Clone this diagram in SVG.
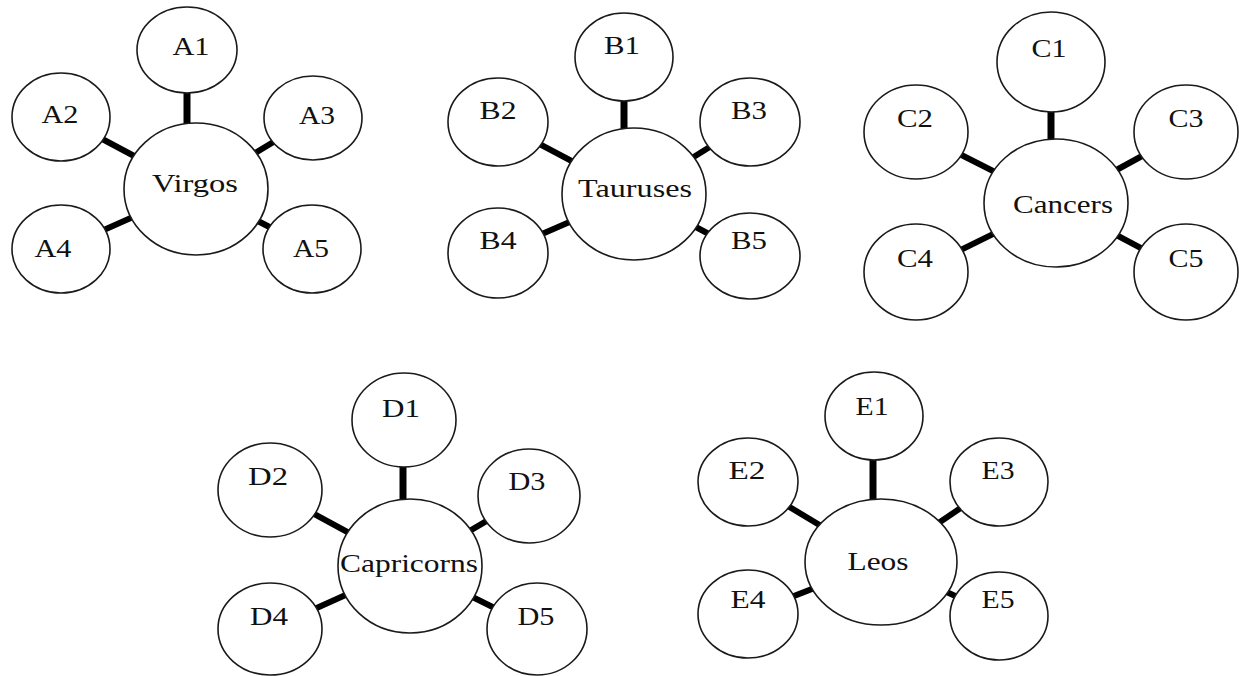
<svg xmlns="http://www.w3.org/2000/svg" width="1239" height="676" viewBox="0 0 1239 676">
<style>
.bg{fill:#fff}
.n ellipse{fill:#fff;stroke:#1a1a1a;stroke-width:1.6}
.n text{font-family:"Liberation Serif","Times New Roman",serif;font-size:26px;fill:#111;text-anchor:middle}
.c line{stroke:#000;stroke-width:6}
.c line.v{stroke-width:7}
</style>
<rect class="bg" x="0" y="0" width="1239" height="676"/>
<g id="connectors" class="c">
  <!-- Virgos -->
  <line class="v" x1="187" y1="80" x2="187" y2="140"/>
  <line x1="196" y1="189" x2="61" y2="117"/>
  <line x1="196" y1="189" x2="313" y2="118"/>
  <line x1="196" y1="189" x2="61" y2="249"/>
  <line x1="196" y1="189" x2="312" y2="249"/>
  <!-- Tauruses -->
  <line class="v" x1="624" y1="90" x2="624" y2="140"/>
  <line x1="634" y1="194" x2="498" y2="122"/>
  <line x1="634" y1="194" x2="750" y2="122"/>
  <line x1="634" y1="194" x2="498" y2="253"/>
  <line x1="634" y1="194" x2="750" y2="256"/>
  <!-- Cancers -->
  <line class="v" x1="1051" y1="100" x2="1051" y2="150"/>
  <line x1="1056" y1="203" x2="916" y2="132"/>
  <line x1="1056" y1="203" x2="1186" y2="132"/>
  <line x1="1056" y1="203" x2="916" y2="272"/>
  <line x1="1056" y1="203" x2="1186" y2="272"/>
  <!-- Capricorns -->
  <line class="v" x1="403" y1="455" x2="403" y2="510"/>
  <line x1="410" y1="566" x2="270" y2="490"/>
  <line x1="410" y1="566" x2="529" y2="496"/>
  <line x1="410" y1="566" x2="270" y2="629"/>
  <line x1="410" y1="566" x2="537" y2="629"/>
  <!-- Leos -->
  <line class="v" x1="873" y1="450" x2="873" y2="510"/>
  <line x1="881" y1="562" x2="748" y2="482"/>
  <line x1="881" y1="562" x2="999" y2="482"/>
  <line x1="881" y1="562" x2="748" y2="614"/>
  <line x1="881" y1="562" x2="999" y2="616"/>
</g>

<!-- Cluster A -->
<g id="virgos" class="n"><ellipse cx="196" cy="189" rx="72" ry="66"/><text x="195" y="192" textLength="86" lengthAdjust="spacingAndGlyphs">Virgos</text></g>
<g id="A1" class="n"><ellipse cx="187" cy="50" rx="50" ry="43"/><text x="191" y="55" textLength="37" lengthAdjust="spacingAndGlyphs">A1</text></g>
<g id="A2" class="n"><ellipse cx="61" cy="117" rx="49" ry="44"/><text x="60" y="123" textLength="37" lengthAdjust="spacingAndGlyphs">A2</text></g>
<g id="A3" class="n"><ellipse cx="313" cy="118" rx="49" ry="42"/><text x="317" y="124" textLength="36" lengthAdjust="spacingAndGlyphs">A3</text></g>
<g id="A4" class="n"><ellipse cx="61" cy="249" rx="49" ry="44"/><text x="53" y="257" textLength="37" lengthAdjust="spacingAndGlyphs">A4</text></g>
<g id="A5" class="n"><ellipse cx="312" cy="249" rx="49" ry="44"/><text x="311" y="257" textLength="36" lengthAdjust="spacingAndGlyphs">A5</text></g>

<!-- Cluster B -->
<g id="tauruses" class="n"><ellipse cx="634" cy="194" rx="72" ry="66"/><text x="635" y="197" textLength="114" lengthAdjust="spacingAndGlyphs">Tauruses</text></g>
<g id="B1" class="n"><ellipse cx="624" cy="57" rx="49" ry="44"/><text x="622" y="54" textLength="36" lengthAdjust="spacingAndGlyphs">B1</text></g>
<g id="B2" class="n"><ellipse cx="498" cy="122" rx="50" ry="44"/><text x="498" y="119" textLength="37" lengthAdjust="spacingAndGlyphs">B2</text></g>
<g id="B3" class="n"><ellipse cx="750" cy="122" rx="50" ry="44"/><text x="749" y="119" textLength="36" lengthAdjust="spacingAndGlyphs">B3</text></g>
<g id="B4" class="n"><ellipse cx="498" cy="253" rx="50" ry="45"/><text x="498" y="249" textLength="37" lengthAdjust="spacingAndGlyphs">B4</text></g>
<g id="B5" class="n"><ellipse cx="750" cy="256" rx="50" ry="43"/><text x="749" y="249" textLength="36" lengthAdjust="spacingAndGlyphs">B5</text></g>

<!-- Cluster C -->
<g id="cancers" class="n"><ellipse cx="1056" cy="203" rx="72" ry="64"/><text x="1063" y="213" textLength="100" lengthAdjust="spacingAndGlyphs">Cancers</text></g>
<g id="C1" class="n"><ellipse cx="1051" cy="62" rx="54" ry="50"/><text x="1049" y="57" textLength="35" lengthAdjust="spacingAndGlyphs">C1</text></g>
<g id="C2" class="n"><ellipse cx="916" cy="132" rx="52" ry="47"/><text x="915" y="127" textLength="36" lengthAdjust="spacingAndGlyphs">C2</text></g>
<g id="C3" class="n"><ellipse cx="1186" cy="132" rx="52" ry="47"/><text x="1186" y="127" textLength="35" lengthAdjust="spacingAndGlyphs">C3</text></g>
<g id="C4" class="n"><ellipse cx="916" cy="272" rx="52" ry="48"/><text x="915" y="267" textLength="36" lengthAdjust="spacingAndGlyphs">C4</text></g>
<g id="C5" class="n"><ellipse cx="1186" cy="272" rx="52" ry="48"/><text x="1186" y="267" textLength="35" lengthAdjust="spacingAndGlyphs">C5</text></g>

<!-- Cluster D -->
<g id="capricorns" class="n"><ellipse cx="410" cy="566" rx="72" ry="67"/><text x="409" y="572" textLength="138" lengthAdjust="spacingAndGlyphs">Capricorns</text></g>
<g id="D1" class="n"><ellipse cx="404" cy="420" rx="52" ry="47"/><text x="401" y="417" textLength="38" lengthAdjust="spacingAndGlyphs">D1</text></g>
<g id="D2" class="n"><ellipse cx="270" cy="490" rx="52" ry="47"/><text x="268" y="485" textLength="40" lengthAdjust="spacingAndGlyphs">D2</text></g>
<g id="D3" class="n"><ellipse cx="529" cy="496" rx="51" ry="47"/><text x="527" y="490" textLength="37" lengthAdjust="spacingAndGlyphs">D3</text></g>
<g id="D4" class="n"><ellipse cx="270" cy="629" rx="52" ry="46"/><text x="269" y="625" textLength="38" lengthAdjust="spacingAndGlyphs">D4</text></g>
<g id="D5" class="n"><ellipse cx="537" cy="629" rx="50" ry="46"/><text x="536" y="625" textLength="37" lengthAdjust="spacingAndGlyphs">D5</text></g>

<!-- Cluster E -->
<g id="leos" class="n"><ellipse cx="881" cy="562" rx="76" ry="63"/><text x="878" y="570" textLength="61" lengthAdjust="spacingAndGlyphs">Leos</text></g>
<g id="E1" class="n"><ellipse cx="874" cy="416" rx="49" ry="44"/><text x="872" y="415" textLength="33" lengthAdjust="spacingAndGlyphs">E1</text></g>
<g id="E2" class="n"><ellipse cx="748" cy="482" rx="50" ry="44"/><text x="747" y="479" textLength="37" lengthAdjust="spacingAndGlyphs">E2</text></g>
<g id="E3" class="n"><ellipse cx="999" cy="482" rx="49" ry="44"/><text x="998" y="479" textLength="33" lengthAdjust="spacingAndGlyphs">E3</text></g>
<g id="E4" class="n"><ellipse cx="748" cy="614" rx="50" ry="44"/><text x="748" y="608" textLength="35" lengthAdjust="spacingAndGlyphs">E4</text></g>
<g id="E5" class="n"><ellipse cx="999" cy="616" rx="49" ry="44"/><text x="998" y="608" textLength="33" lengthAdjust="spacingAndGlyphs">E5</text></g>
</svg>
